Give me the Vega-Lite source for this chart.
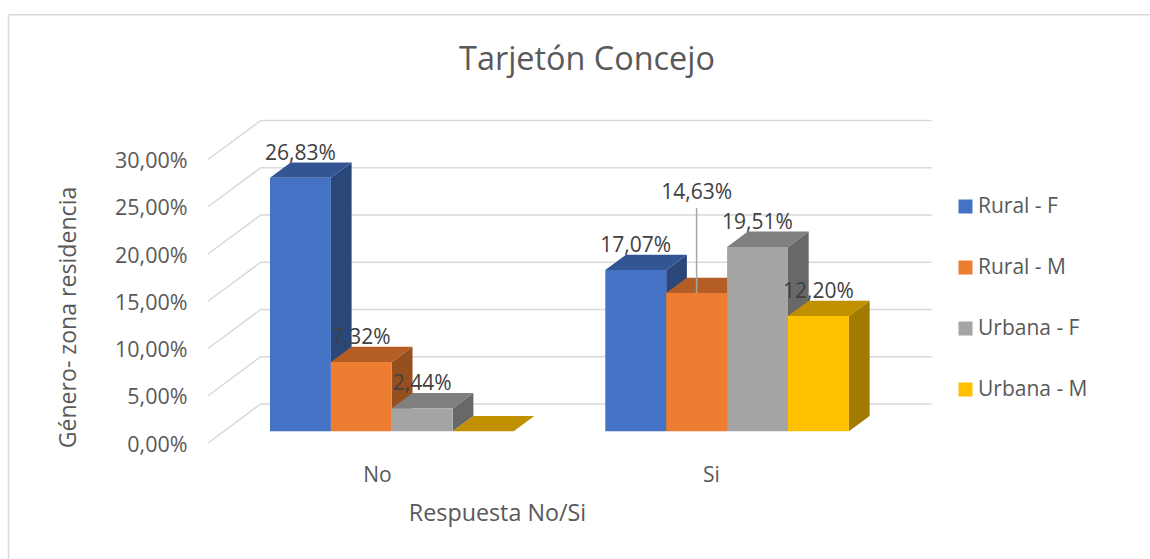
{
"$schema":"https://vega.github.io/schema/vega-lite/v6.json",
"width":1150,"height":559,"autosize":{"type":"none"},"padding":0,
"background":"white",
"view":{"stroke":null},
"title":{"text":"Tarjetón Concejo","font":"Open Sans","fontSize":32.4,"fontWeight":"normal","color":"#595959","anchor":"middle","orient":"top","offset":-76,"dx":12},
"datasets":{
"valores":[
{"respuesta":"No","serie":"Rural - F","valor":26.83},
{"respuesta":"No","serie":"Rural - M","valor":7.32},
{"respuesta":"No","serie":"Urbana - F","valor":2.44},
{"respuesta":"No","serie":"Urbana - M","valor":0},
{"respuesta":"Si","serie":"Rural - F","valor":17.07},
{"respuesta":"Si","serie":"Rural - M","valor":14.63},
{"respuesta":"Si","serie":"Urbana - F","valor":19.51},
{"respuesta":"Si","serie":"Urbana - M","valor":12.20}
],
"rejilla":[{"nivel":0},{"nivel":5},{"nivel":10},{"nivel":15},{"nivel":20},{"nivel":25},{"nivel":30}]
},
"data":{"name":"valores"},
"transform":[
{"calculate":"(datum.respuesta=='No'?270:605.3)+60.9*indexof(['Rural - F','Rural - M','Urbana - F','Urbana - M'],datum.serie)","as":"xl"},
{"calculate":"datum.xl+60.9","as":"xr"},
{"calculate":"datum.xl+30.4","as":"xc"},
{"calculate":"1.24","as":"y0"},
{"calculate":"datum.valor+1.24","as":"yf"},
{"calculate":"replace(format(datum.valor,'.2f'),'.',',')+'%'","as":"etiqueta"},
{"calculate":"datum.yf+(datum.respuesta=='Si'&&datum.serie=='Rural - M'?10.6:2.55)","as":"yl"}
],
"layer":[
{"data":{"values":[{"a":1}]},"mark":{"type":"rule","color":"#D9D9D9","strokeWidth":1.5},
 "encoding":{"x":{"datum":8.5,"type":"quantitative","scale":{"domain":[0,1150],"nice":false,"zero":false},"axis":null},"y":{"datum":45.32,"type":"quantitative","scale":{"domain":[-12.275,46.88],"nice":false,"zero":false},"axis":null},"y2":{"datum":-12.275}}},
{"data":{"values":[{"a":1}]},"mark":{"type":"rule","color":"#D9D9D9","strokeWidth":1.5},
 "encoding":{"x":{"datum":8.5,"type":"quantitative","axis":null},"x2":{"datum":1150},"y":{"datum":45.32,"type":"quantitative","axis":null}}},
{"data":{"name":"rejilla"},
 "transform":[{"calculate":"[0,1,2]","as":"p"},{"flatten":["p"]},
  {"calculate":"datum.p==0?208:(datum.p==1?260.7:931.7)","as":"gx"},
  {"calculate":"datum.nivel+(datum.p==0?0:4.13)","as":"gy"}],
 "mark":{"type":"line","color":"#D9D9D9","strokeWidth":1.5},
 "encoding":{"x":{"field":"gx","type":"quantitative","axis":null},"y":{"field":"gy","type":"quantitative","axis":null},"detail":{"field":"nivel"},"order":{"field":"p"}}},
{"transform":[{"calculate":"[0,1]","as":"t"},{"flatten":["t"]},
  {"calculate":"datum.xr+datum.t*20.7","as":"sx"},
  {"calculate":"datum.yf+datum.t*1.62","as":"sy"},
  {"calculate":"datum.y0+datum.t*1.62","as":"sy0"}],
 "mark":{"type":"area","orient":"vertical"},
 "encoding":{"x":{"field":"sx","type":"quantitative","axis":null},"y":{"field":"sy","type":"quantitative","axis":null},"y2":{"field":"sy0"},"detail":{"field":"respuesta"},
  "color":{"field":"serie","type":"nominal","legend":null,"scale":{"domain":["Rural - F","Rural - M","Urbana - F","Urbana - M"],"range":["#2A4779","#964F1E","#686868","#A27A00"]}}}},
{"transform":[{"calculate":"[0,1]","as":"t"},{"flatten":["t"]},
  {"calculate":"datum.xl+datum.t*20.7","as":"tx"},
  {"calculate":"datum.xr+datum.t*20.7","as":"tx2"},
  {"calculate":"datum.yf+datum.t*1.62","as":"ty"}],
 "mark":{"type":"area","orient":"horizontal"},
 "encoding":{"y":{"field":"ty","type":"quantitative","axis":null},"x":{"field":"tx","type":"quantitative","axis":null},"x2":{"field":"tx2"},"detail":{"field":"respuesta"},
  "color":{"field":"serie","type":"nominal","legend":null,"scale":{"domain":["Rural - F","Rural - M","Urbana - F","Urbana - M"],"range":["#335593","#B45D25","#7F7F7F","#C09000"]}}}},
{"mark":{"type":"rect"},
 "encoding":{
  "x":{"field":"xl","type":"quantitative","axis":{"orient":"bottom","offset":-95,"values":[377,711],"labelExpr":"datum.value<500?'No':'Si'","domain":false,"ticks":false,"grid":false,"labelFont":"Open Sans","labelFontSize":21,"labelColor":"#595959","labelPadding":0,"labelBaseline":"top","title":"Respuesta No/Si","titleFont":"Open Sans","titleFontSize":23.3,"titleFontWeight":"normal","titleColor":"#595959","titleX":497,"titleY":49,"titleAlign":"center","titleBaseline":"middle"}},
  "x2":{"field":"xr"},
  "y":{"field":"yf","type":"quantitative","axis":{"orient":"left","offset":-187,"values":[0,5,10,15,20,25,30],"labelExpr":"replace(format(datum.value,'.2f'),'.',',')+'%'","domain":false,"ticks":false,"grid":false,"labelFont":"Open Sans","labelFontSize":21.5,"labelColor":"#595959","labelPadding":0,"labelOffset":2,"title":"Género- zona residencia","titleFont":"Open Sans","titleFontSize":23.1,"titleFontWeight":"normal","titleColor":"#595959","titleX":-119,"titleY":317,"titleAngle":270,"titleAlign":"center","titleBaseline":"middle"}},
  "y2":{"field":"y0"},
  "color":{"field":"serie","type":"nominal","scale":{"domain":["Rural - F","Rural - M","Urbana - F","Urbana - M"],"range":["#4472C4","#ED7D31","#A5A5A5","#FFC000"]},
   "legend":{"orient":"none","legendX":955,"legendY":196,"title":null,"symbolType":"square","symbolSize":196,"symbolStrokeWidth":0,"labelFont":"Open Sans","labelFontSize":21,"labelColor":"#595959","labelOffset":2,"rowPadding":39,"padding":0}}}},
{"transform":[{"filter":"datum.respuesta=='Si'&&datum.serie=='Rural - M'"},{"calculate":"datum.yf+9","as":"yt"}],
 "mark":{"type":"rule","color":"#A6A6A6","strokeWidth":1.5},
 "encoding":{"x":{"field":"xc","type":"quantitative","axis":null},"y":{"field":"yf","type":"quantitative","axis":null},"y2":{"field":"yt"}}},
{"transform":[{"filter":"datum.valor>0"}],
 "mark":{"type":"text","font":"Open Sans","fontSize":21,"color":"#404040","baseline":"middle","align":"center"},
 "encoding":{"x":{"field":"xc","type":"quantitative","axis":null},"y":{"field":"yl","type":"quantitative","axis":null},"text":{"field":"etiqueta"}}}
],
"resolve":{"scale":{"color":"independent"},"axis":{"x":"independent","y":"independent"}}
}
